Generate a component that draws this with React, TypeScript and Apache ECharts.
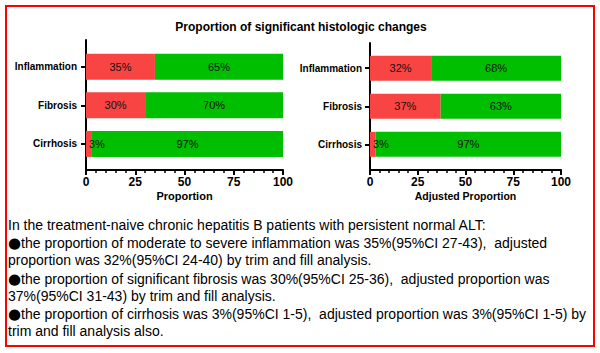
import React, { useEffect, useRef } from "react";
import * as echarts from "echarts";

const title = "Proportion of significant histologic changes";
const categories = ["Inflammation", "Fibrosis", "Cirrhosis"];
const proportion = [35, 30, 3];
const proportionRest = [65, 70, 97];
const adjusted = [32, 37, 3];
const adjustedRest = [68, 63, 97];
const xTicks = [0, 25, 50, 75, 100];
const leftAxisName = "Proportion";
const rightAxisName = "Adjusted Proportion";
const BULLET = "\u25CF";
const textLines = [
  "In the treatment-naive chronic hepatitis B patients with persistent normal ALT:",
  BULLET + "the proportion of moderate to severe inflammation was 35%(95%CI 27-43),  adjusted",
  "proportion was 32%(95%CI 24-40) by trim and fill analysis.",
  BULLET + "the proportion of significant fibrosis was 30%(95%CI 25-36),  adjusted proportion was",
  "37%(95%CI 31-43) by trim and fill analysis.",
  BULLET + "the proportion of cirrhosis was 3%(95%CI 1-5),  adjusted proportion was 3%(95%CI 1-5) by",
  "trim and fill analysis also.",
];
const textLineY = [225, 243, 260, 279, 296, 314, 331];

const RED = "#F94444";
const GREEN = "#00BE00";
const FONT = "'Liberation Sans', Arial, sans-serif";

export default function App() {
  const ref = useRef<HTMLDivElement>(null);
  useEffect(() => {
    if (!ref.current) return;
    const chart = echarts.init(ref.current, null, { renderer: "svg" });

    const frameX = (gridIndex: number, name: string, nameSize: number) => ({
      type: "value",
      gridIndex,
      min: xTicks[0],
      max: xTicks[xTicks.length - 1],
      interval: 25,
      name,
      nameLocation: "middle",
      nameGap: 20,
      nameTextStyle: { fontFamily: FONT, fontWeight: "bold", fontSize: nameSize, color: "#000" },
      axisLine: { show: true, lineStyle: { color: "#000", width: 2 } },
      axisTick: { show: true, length: 5, lineStyle: { color: "#000", width: 2 } },
      minorTick: { show: true, splitNumber: 5, length: 3, lineStyle: { color: "#000", width: 1.5 } },
      splitLine: { show: false },
      minorSplitLine: { show: false },
      axisLabel: { margin: 6, fontFamily: FONT, fontWeight: "bold", fontSize: 12, color: "#000" },
    });
    const hiddenX = (gridIndex: number) => ({
      type: "value",
      gridIndex,
      min: 0,
      max: 100,
      show: false,
    });
    const frameY = (gridIndex: number) => ({
      type: "value",
      gridIndex,
      min: 0,
      max: 1,
      axisLine: { show: true, lineStyle: { color: "#000", width: 2 } },
      axisTick: { show: false },
      axisLabel: { show: false },
      splitLine: { show: false },
    });
    const catY = (gridIndex: number, margin: number, size: number) => ({
      type: "category",
      gridIndex,
      data: categories,
      inverse: true,
      axisLine: { show: false },
      axisTick: { show: true, alignWithLabel: true, length: 5, lineStyle: { color: "#000", width: 2 } },
      axisLabel: { margin, fontFamily: FONT, fontWeight: "bold", fontSize: size, color: "#000" },
      splitLine: { show: false },
    });
    const barLabel = { show: true, formatter: "{c}%", fontFamily: FONT, fontSize: 11, color: "#111" };
    const redData = (vals: number[]) =>
      vals.map((v) =>
        v < 10 ? { value: v, label: { position: "insideLeft", distance: 3 } } : v
      );
    const bars = (xi: number, yi: number, stack: string, a: number[], b: number[], w: number) => [
      {
        type: "bar",
        xAxisIndex: xi,
        yAxisIndex: yi,
        stack,
        barWidth: w,
        data: redData(a),
        itemStyle: { color: RED },
        label: { ...barLabel, position: "inside" },
      },
      {
        type: "bar",
        xAxisIndex: xi,
        yAxisIndex: yi,
        stack,
        barWidth: w,
        data: b,
        itemStyle: { color: GREEN },
        label: { ...barLabel, position: "inside" },
      },
    ];

    const richLine = (t: string) =>
      t.startsWith(BULLET) ? "{b|" + BULLET + "}{t|" + t.slice(BULLET.length) + "}" : "{t|" + t + "}";

    chart.setOption({
      animation: false,
      backgroundColor: "#fff",
      title: {
        text: title,
        left: 296,
        textAlign: "center",
        top: 16,
        textStyle: { fontFamily: FONT, fontWeight: "bold", fontSize: 12, color: "#000" },
      },
      grid: [
        { left: 86, top: 47.4, width: 197, height: 115.8 },
        { left: 86, top: 40, width: 197, height: 130 },
        { left: 370, top: 49.2, width: 191, height: 114.2 },
        { left: 370, top: 43, width: 191, height: 127 },
      ],
      xAxis: [hiddenX(0), frameX(1, leftAxisName, 11), hiddenX(2), frameX(3, rightAxisName, 10.5)],
      yAxis: [catY(0, 9, 10), frameY(1), catY(2, 8, 10), frameY(3)],
      series: [
        ...bars(0, 0, "left", proportion, proportionRest, 26),
        ...bars(2, 2, "right", adjusted, adjustedRest, 25),
      ],
      graphic: [
        {
          type: "rect",
          shape: { x: 6, y: 6, width: 588, height: 340 },
          style: { fill: "none", stroke: "#FF0000", lineWidth: 2 },
          z: 100,
        },
        ...textLines.map((t, i) => ({
          type: "text",
          x: 8,
          y: textLineY[i],
          style: {
            text: richLine(t),
            fontFamily: FONT,
            fontSize: 14,
            fill: "#000",
            verticalAlign: "middle",
            align: "left",
            rich: {
              t: { fontFamily: FONT, fontSize: 14, fill: "#000" },
              b: { fontFamily: "'DejaVu Sans'", fontSize: 15, fill: "#000" },
            },
          },
        })),
      ],
    });
    return () => chart.dispose();
  }, []);
  return (
    <div
      ref={ref}
      style={{ position: "fixed", left: 0, top: 0, width: 600, height: 353 }}
    />
  );
}
